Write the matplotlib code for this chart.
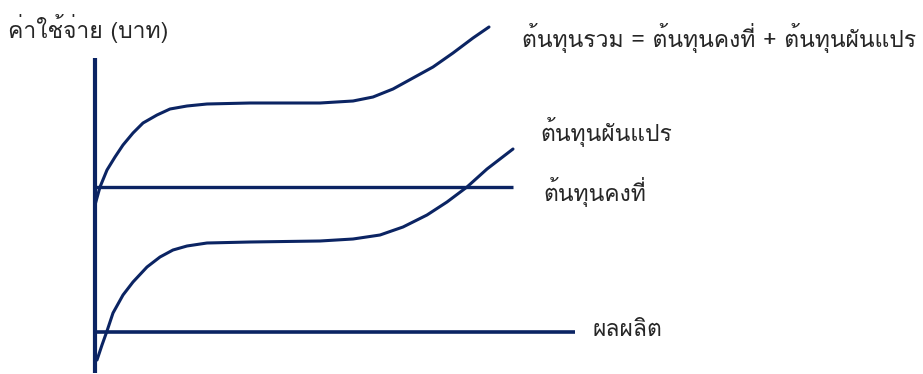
import matplotlib
matplotlib.use("Agg")
import matplotlib.pyplot as plt
from matplotlib import font_manager
from matplotlib.ft2font import FT2Font

menge_gesamt = [0, 5, 12, 20, 28, 38, 48, 62, 75, 92, 112, 155, 225, 258, 278, 298, 318, 338, 358, 378, 394]
kosten_gesamt = [127, 145, 162, 175, 187, 199, 209, 217, 223, 226, 228, 229, 229, 231, 235, 243, 254, 265, 279, 294, 305]

menge_variabel = [2, 7, 12, 18, 28, 38, 52, 65, 78, 92, 112, 155, 225, 258, 285, 308, 332, 352, 372, 392, 418]
kosten_variabel = [-28, -13, 1, 19, 37, 50, 65, 75, 82, 86, 89, 90, 91, 93, 97, 105, 117, 130, 145, 163, 183]

fixkosten = 145
fix_ende = 418
xachse_ende = 480
yachse_unten, yachse_oben = -41, 274

label_y = "ค่าใช้จ่าย (บาท)"
label_gesamt = "ต้นทุนรวม = ต้นทุนคงที่ + ต้นทุนผันแปร"
label_variabel = "ต้นทุนผันแปร"
label_fix = "ต้นทุนคงที่"
label_x = "ผลผลิต"

# Schrift mit thailaendischen Zeichen suchen
thai_fonts = []
for f in font_manager.fontManager.ttflist:
    try:
        if 0x0E01 in FT2Font(f.fname).get_charmap():
            thai_fonts.append(f.name)
    except Exception:
        pass
familie = list(dict.fromkeys(thai_fonts)) + ["DejaVu Sans"]
plt.rcParams["font.family"] = familie

farbe = "#0b2463"
textfarbe = "#262626"

fig = plt.figure(figsize=(9.23, 3.74), dpi=100)
ax = fig.add_axes([0, 0, 1, 1])
ax.set_xlim(-95, 828)
ax.set_ylim(-42, 332)
ax.axis("off")

ax.plot([0, 0], [yachse_unten, yachse_oben], color=farbe, lw=3.0, solid_capstyle="butt")
ax.plot([0, xachse_ende], [0, 0], color=farbe, lw=2.6, solid_capstyle="butt")
ax.plot([0, fix_ende], [fixkosten, fixkosten], color=farbe, lw=2.4, solid_capstyle="butt")
ax.plot(menge_gesamt, kosten_gesamt, color=farbe, lw=2.2, solid_joinstyle="round", solid_capstyle="round")
ax.plot(menge_variabel, kosten_variabel, color=farbe, lw=2.2, solid_joinstyle="round", solid_capstyle="round")

fs = 16.5
ax.text(-87, 304, label_y, fontsize=fs, color=textfarbe, va="center", ha="left", fontweight="light")
ax.text(427, 294, label_gesamt, fontsize=fs, color=textfarbe, va="center", ha="left", fontweight="light")
ax.text(445, 200, label_variabel, fontsize=fs, color=textfarbe, va="center", ha="left", fontweight="light")
ax.text(448, 140, label_fix, fontsize=fs, color=textfarbe, va="center", ha="left", fontweight="light")
ax.text(498, 2, label_x, fontsize=fs, color=textfarbe, va="center", ha="left", fontweight="light")

fig.savefig("out.png", dpi=100)
